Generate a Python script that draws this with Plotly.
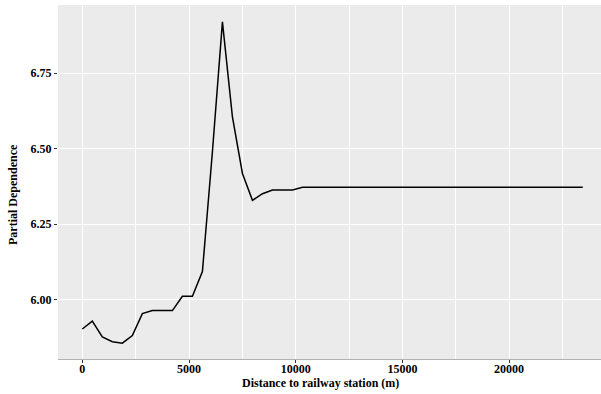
import plotly.graph_objects as go

# Data
distance_m = [0, 469, 938, 1407, 1876, 2345, 2814, 3283, 3752, 4221, 4690, 5159,
              5628, 6097, 6566, 7035, 7504, 7973, 8442, 8911, 9380, 9849, 10318, 23450]
partial_dependence = [5.903, 5.929, 5.877, 5.861, 5.856, 5.881, 5.954, 5.964, 5.964, 5.964,
                      6.011, 6.011, 6.093, 6.49, 6.92, 6.605, 6.418, 6.329, 6.351, 6.363,
                      6.363, 6.363, 6.372, 6.372]
x_ticks = [0, 5000, 10000, 15000, 20000]
y_ticks = [6.00, 6.25, 6.50, 6.75]

FONT = "Liberation Serif, Times New Roman, serif"

W, H = 601, 394
l, r, t, b = 58, 0, 5, 35
pw, ph = W - l - r, H - t - b

fig = go.Figure()
fig.add_trace(go.Scatter(x=distance_m, y=partial_dependence, mode="lines",
                         line=dict(color="black", width=1.5), showlegend=False))

fig.update_layout(
    width=W, height=H,
    margin=dict(l=l, r=r, t=t, b=b),
    paper_bgcolor="white",
    plot_bgcolor="#EBEBEB",
    font=dict(family=FONT, size=12, color="black"),
    xaxis=dict(
        range=[-1139, 24306],
        tickvals=x_ticks,
        ticktext=[f"<b>{v}</b>" for v in x_ticks],
        showgrid=True, gridcolor="white", gridwidth=1.3,
        minor=dict(dtick=2500, tick0=0, showgrid=True, gridcolor="white", gridwidth=0.9),
        zeroline=False,
        showline=True, linecolor="#B0B0B0", linewidth=1,
        ticks="outside", ticklen=3, tickcolor="#333333", tickwidth=1,
        ticklabelstandoff=-4,
        tickfont=dict(family=FONT, size=12, color="black"),
    ),
    yaxis=dict(
        range=[5.8036, 6.9758],
        tickvals=y_ticks,
        ticktext=[f"<b>{v:.2f}</b>" for v in y_ticks],
        showgrid=True, gridcolor="white", gridwidth=1.3,
        zeroline=False, showline=False,
        ticks="outside", ticklen=3, tickcolor="#333333", tickwidth=1,
        tickfont=dict(family=FONT, size=12, color="black"),
    ),
    annotations=[
        dict(text="<b>Distance to railway station (m)</b>",
             xref="paper", yref="paper",
             x=(320 - l) / pw, y=(H - b - 383) / ph,
             xanchor="center", yanchor="middle", showarrow=False,
             font=dict(family=FONT, size=12, color="black")),
        dict(text="<b>Partial Dependence</b>", textangle=-90,
             xref="paper", yref="paper",
             x=(13 - l) / pw, y=(H - b - 195) / ph,
             xanchor="center", yanchor="middle", showarrow=False,
             font=dict(family=FONT, size=12, color="black")),
    ],
)

fig.write_html("out.html")
